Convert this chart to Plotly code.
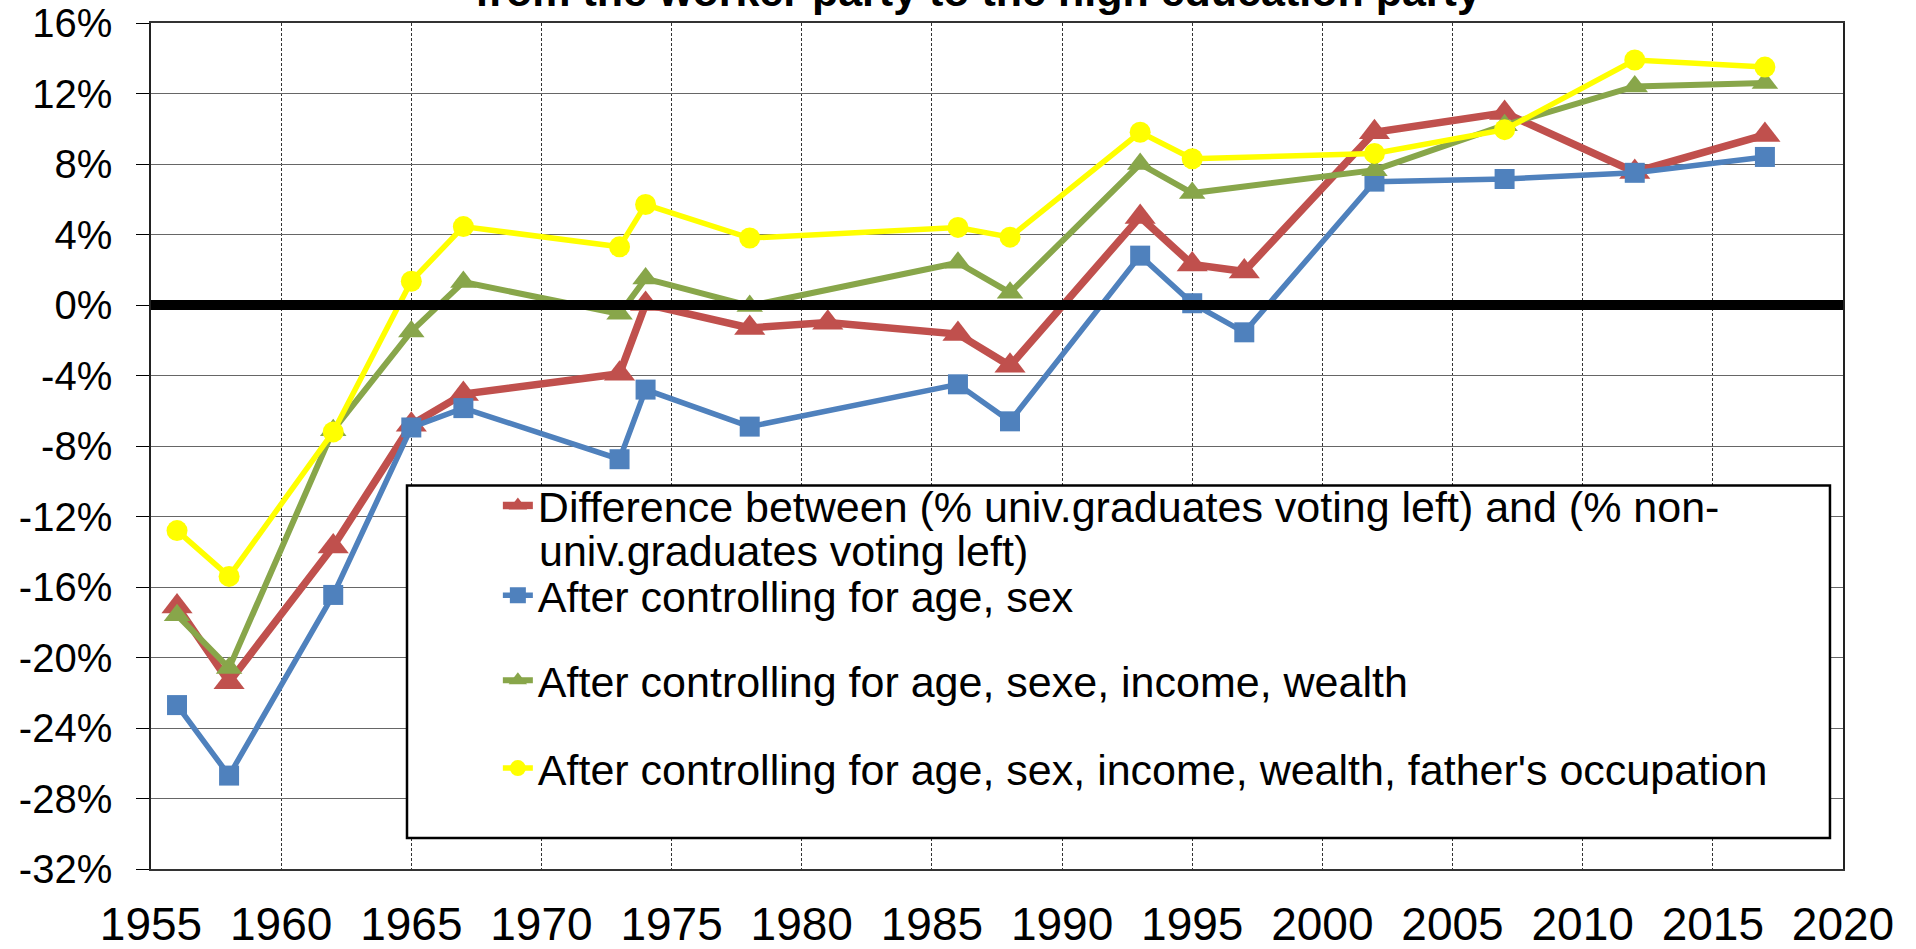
import plotly.graph_objects as go

# Election years and estimated values (in %)
years_diff = [1956, 1958, 1962, 1965, 1967, 1973, 1974, 1978, 1981, 1986, 1988,
              1993, 1995, 1997, 2002, 2007, 2012, 2017]
diff = [-17.1, -21.4, -13.7, -6.8, -5.05, -3.9, 0.05, -1.3, -1.0, -1.65, -3.45,
        5.0, 2.3, 1.9, 9.8, 10.9, 7.55, 9.65]

years_age_sex = [1956, 1958, 1962, 1965, 1967, 1973, 1974, 1978, 1986, 1988,
                 1993, 1995, 1997, 2002, 2007, 2012, 2017]
age_sex = [-22.7, -26.7, -16.45, -6.95, -5.85, -8.75, -4.8, -6.9, -4.5, -6.6,
           2.8, 0.1, -1.55, 7.0, 7.15, 7.5, 8.4]

years_wealth = [1956, 1958, 1962, 1965, 1967, 1973, 1974, 1978, 1986, 1988,
                1993, 1995, 2002, 2007, 2012, 2017]
wealth = [-17.6, -20.6, -7.1, -1.5, 1.3, -0.5, 1.5, -0.05, 2.4, 0.7,
          8.0, 6.35, 7.65, 10.2, 12.4, 12.6]

years_father = years_wealth
father = [-12.8, -15.4, -7.2, 1.35, 4.45, 3.3, 5.7, 3.8, 4.4, 3.85,
          9.8, 8.3, 8.6, 9.95, 13.9, 13.5]

y_ticks = [16, 12, 8, 4, 0, -4, -8, -12, -16, -20, -24, -28, -32]
y_labels = ['16%', '12%', '8%', '4%', '0%', '-4%', '-8%', '-12%', '-16%', '-20%', '-24%', '-28%', '-32%']
x_ticks = [1955, 1960, 1965, 1970, 1975, 1980, 1985, 1990, 1995, 2000, 2005, 2010, 2015, 2020]

names = ["Difference between (% univ.graduates voting left) and (% non-",
         "After controlling for age, sex",
         "After controlling for age, sexe, income, wealth",
         "After controlling for age, sex, income, wealth, father's occupation"]
name_wrap = "univ.graduates voting left)"

FONT = "Liberation Sans, Arial, sans-serif"

fig = go.Figure()

fig.add_trace(go.Scatter(x=years_diff, y=diff, mode='lines+markers', name=names[0],
                         line=dict(color='#C0504D', width=7.5),
                         marker=dict(symbol='triangle-up', size=27, color='#C0504D'),
                         legend='legend'))
fig.add_trace(go.Scatter(x=years_age_sex, y=age_sex, mode='lines+markers', name=names[1],
                         line=dict(color='#4F81BD', width=5.5),
                         marker=dict(symbol='square', size=20, color='#4F81BD'),
                         legend='legend2'))
fig.add_trace(go.Scatter(x=years_wealth, y=wealth, mode='lines+markers', name=names[2],
                         line=dict(color='#88A64A', width=6),
                         marker=dict(symbol='triangle-up', size=23, color='#88A64A'),
                         legend='legend3'))
fig.add_trace(go.Scatter(x=years_father, y=father, mode='lines+markers', name=names[3],
                         line=dict(color='#FFFF00', width=5.5),
                         marker=dict(symbol='circle', size=21, color='#FFFF00'),
                         legend='legend4'))

# thick zero line on top of the series
fig.add_shape(type='line', xref='paper', x0=0, x1=1, yref='y', y0=0, y1=0,
              line=dict(color='black', width=10), layer='above')

# legend frame (white box hiding the grid)
fig.add_shape(type='rect', xref='paper', yref='paper', x0=0.1513, x1=0.9923, y0=0.0366, y1=0.4534,
              line=dict(color='black', width=2.5), fillcolor='white', layer='above')

# second line of the first legend entry
fig.add_annotation(text=name_wrap, xref='paper', yref='paper',
                   x=(537 - 151) / 1692, y=(869 - 551) / 847, xanchor='left', yanchor='middle',
                   showarrow=False, font=dict(size=43, color='black', family=FONT))

# title, cut at the top of the picture
fig.add_annotation(text='<b>from the worker party to the high education party</b>',
                   xref='paper', yref='paper', x=0.489, y=1.007, xanchor='center', yanchor='bottom',
                   showarrow=False, font=dict(size=43, color='black', family=FONT))

leg = dict(bgcolor='rgba(0,0,0,0)', borderwidth=0, font=dict(size=43, color='black', family=FONT),
           xanchor='left', yanchor='middle', x=0.205)
fig.update_layout(
    width=1916, height=949,
    margin=dict(l=151, r=73, t=23, b=80, autoexpand=False),
    paper_bgcolor='white', plot_bgcolor='white',
    font=dict(family=FONT, color='black'),
    showlegend=True,
    legend=dict(leg, y=(869 - 505) / 847),
    legend2=dict(leg, y=(869 - 595) / 847),
    legend3=dict(leg, y=(869 - 680) / 847),
    legend4=dict(leg, y=(869 - 768) / 847),
    xaxis=dict(range=[1955, 2020], tickvals=x_ticks, ticks='', tickfont=dict(size=46),
               showgrid=True, gridcolor='#333333', gridwidth=1, griddash='3px,2px',
               showline=True, linecolor='#333333', linewidth=1.5, mirror=True,
               zeroline=False, ticklabelstandoff=14, automargin=False),
    yaxis=dict(range=[-32, 16], tickvals=y_ticks, ticktext=y_labels, tickfont=dict(size=40),
               ticks='outside', ticklen=13, tickcolor='black', tickwidth=1.2,
               showgrid=True, gridcolor='#666666', gridwidth=1.3,
               showline=True, linecolor='#222222', linewidth=1.5, mirror=True,
               zeroline=False, ticklabelstandoff=16, automargin=False),
    hovermode=False,
)

fig.write_html("out.html", config={'displayModeBar': False},
               post_script="document.body.style.margin='0';document.body.style.overflow='hidden';")
